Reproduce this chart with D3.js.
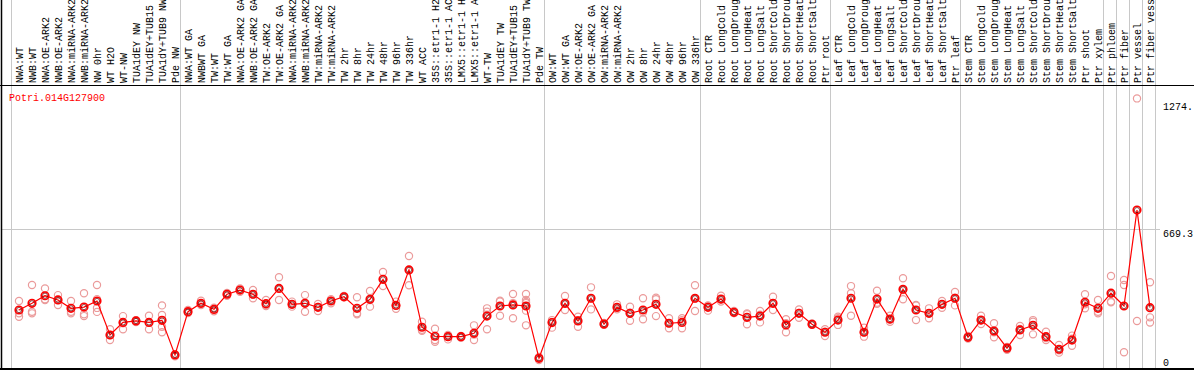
<!DOCTYPE html>
<html><head><meta charset="utf-8">
<script src="https://cdn.jsdelivr.net/npm/d3@7"></script>
<style>html,body{margin:0;padding:0;background:#fff;overflow:hidden}</style>
</head><body>
<svg id="chart" width="1194" height="370"></svg>
<script>
const geneName = "Potri.014G127900";
const categories = [
"NWA:WT","NWB:WT","NWA:OE-ARK2","NWB:OE-ARK2","NWA:miRNA-ARK2","NWB:miRNA-ARK2","NW 0hr","WT H2O","WT-NW","TUA1dEY NW","TUA1dEY+TUB15 NW","TUA1dY+TUB9 NW","Pde NW",
"NWA:WT GA","NWBWT GA","TW:WT","TW:WT GA","NWA:OE-ARK2 GA","NWB:OE-ARK2 GA","TW:OE-ARK2","TW:OE-ARK2 GA","NWA:miRNA-ARK2 GA","NWB:miRNA-ARK2 GA","TW:miRNA-ARK2","TW:miRNA-ARK2 GA","TW 2hr","TW 8hr","TW 24hr","TW 48hr","TW 96hr","TW 336hr","WT ACC","35S::etr1-1 H2O","35S::etr1-1 ACC","LMX5::etr1-1 H2O","LMX5::etr1-1 ACC","WT-TW","TUA1dEY TW","TUA1dEY+TUB15 TW","TUA1dY+TUB9 TW","Pde TW",
"OW:WT","OW:WT GA","OW:OE-ARK2","OW:OE-ARK2 GA","OW:miRNA-ARK2","OW:miRNA-ARK2 GA","OW 2hr","OW 8hr","OW 24hr","OW 48hr","OW 96hr","OW 336hr",
"Root CTR","Root LongCold","Root LongDrought","Root LongHeat","Root LongSalt","Root ShortCold","Root ShortDrought","Root ShortHeat","Root ShortSalt","Ptr root",
"Leaf CTR","Leaf LongCold","Leaf LongDrought","Leaf LongHeat","Leaf LongSalt","Leaf ShortCold","Leaf ShortDrought","Leaf ShortHeat","Leaf ShortSalt","Ptr leaf",
"Stem CTR","Stem LongCold","Stem LongDrought","Stem LongHeat","Stem LongSalt","Stem ShortCold","Stem ShortDrought","Stem ShortHeat","Stem ShortSalt","Ptr shoot","Ptr xylem",
"Ptr phloem","Ptr fiber","Ptr vessel","Ptr fiber vessel"];
const groupStarts = [0,13,41,53,63,73,84,85,86,87];
const means = [
281,313,349,329,289,295,324,162,222,229,222,232,67,
273,313,284,356,376,356,311,384,308,313,294,324,344,289,332,427,303,472,199,156,154,154,170,252,300,305,300,51,
221,313,229,337,214,294,265,281,308,218,222,337,
294,333,270,246,252,313,210,265,213,175,
233,337,175,333,238,380,281,265,308,337,
151,233,181,99,186,208,154,94,138,318,289,
361,300,757,292];
const replicates = [
[324,265,249],[400,273,265],[384,332,329],[352,329,305],[324,273,265],[361,261,252],[400,333,291,272],[189,162,138],[252,218,189],[233,229,224],[254,222,189],[303,257,233,201,175],[71,67,60],
[281,272,267],[325,305,310],[292,286,275],[362,356,349],[384,368],[376,354,337],[329,305,300],[437,384,329],[321,297,307],[352,273,313],[310,276,295],[333,313,325],[348,342],[342,261,265],[372,329,297],[462,427,395],[321,303,287],[538,472,399],[225,182,187],[192,138,130],[162,141,157],[157,149,155],[208,138,164],[289,273,189,259],[325,254,321],[357,242,305,314],[357,329,314,278,208,319],[57,51,43],
[233,197,224],[348,281,310],[249,201,233],[389,284,337],[219,212,210],[308,289,284],[297,230,268],[337,237,270],[340,332,252],[242,194,218],[242,194,232],[399,276,335],
[303,278,300],[349,321,331],[276,267,267],[261,213,265],[276,222,259],[344,281,313],[237,175,218],[284,244,267],[217,210,212],[189,157,178],
[249,210,242],[395,361,254],[197,154,175],[373,316,311],[254,225,236],[432,332,376],[305,233,302],[289,242,265],[324,292,308],[367,303,340],
[157,151,145],[254,214,232],[218,151,175],[105,99,92],[205,162,191],[233,165,225],[178,138,148],[114,78,89],[159,111,144],[356,289,308],[329,265,273],
[443,321,318],[424,400,80],[1289,229],[413,246,221]];
const yTicks = [0, 669.3, 1274];
const yTickLabels = ["0", "669.3", "1274."];

const svg = d3.select("#chart");
const W = 1194, H = 370;
const font = "'Liberation Mono', 'DejaVu Sans Mono', monospace";
const grid = "#c8c8c8";

const x = d3.scaleBand().domain(d3.range(categories.length)).range([12.5, 12.5 + 13*categories.length]);
const cx = i => x(i) + x.bandwidth()/2;
const y = d3.scaleLinear().domain([0, 1338.6]).range([369, 88]);

// horizontal midline grid
svg.append("line").attr("x1", 2).attr("x2", 1160).attr("y1", Math.round(y(669.3))+0.5).attr("y2", Math.round(y(669.3))+0.5)
  .attr("stroke", grid).attr("stroke-width", 1);

// group separators
const seps = groupStarts.map(s => cx(s) - 8).concat([cx(categories.length-1) + 5]);
svg.selectAll("line.sep").data(seps).enter().append("line").attr("class","sep")
  .attr("x1", d => Math.round(d)+0.5).attr("x2", d => Math.round(d)+0.5).attr("y1", 0).attr("y2", 369)
  .attr("stroke", grid).attr("stroke-width", 1);

// frame
svg.append("line").attr("x1",0).attr("x2",W).attr("y1",85.5).attr("y2",85.5).attr("stroke","#000").attr("stroke-width",1);
svg.append("line").attr("x1",0).attr("x2",W).attr("y1",369).attr("y2",369).attr("stroke","#000").attr("stroke-width",2);
svg.append("line").attr("x1",1.5).attr("x2",1.5).attr("y1",0).attr("y2",370).attr("stroke","#000").attr("stroke-width",1.5);

// category labels (rotated)
svg.selectAll("text.cat").data(categories).enter().append("text").attr("class","cat")
  .attr("transform", (d,i) => `translate(${cx(i)},83) rotate(-90)`)
  .attr("dy","0.35em").attr("font-family",font).attr("font-size","10px").attr("fill","#000")
  .text(d => d);

// title
svg.append("text").attr("x", 9).attr("y", 101).attr("font-family", font).attr("font-size","10px")
  .attr("fill","#f00").text(geneName);

// right axis
const axis = d3.axisRight(y).tickValues(yTicks).tickSize(0).tickPadding(0)
  .tickFormat((d,i) => yTickLabels[i]);
const ag = svg.append("g").attr("transform","translate(1163,0)").call(axis);
ag.select(".domain").remove();
ag.selectAll("text").attr("font-family", font).attr("font-size","10px").attr("fill","#000")
  .attr("dy", d => d === 0 ? "-0.4em" : "0.75em");

// replicate points
const repData = [];
replicates.forEach((arr, i) => arr.forEach(v => repData.push({i, v})));
svg.selectAll("circle.rep").data(repData).enter().append("circle").attr("class","rep")
  .attr("cx", d => cx(d.i)).attr("cy", d => y(d.v)).attr("r", 3.6)
  .attr("fill","none").attr("stroke","#eb9b9b").attr("stroke-width",1.2);

// mean line
const line = d3.line().x((d,i) => cx(i)).y(d => y(d));
svg.append("path").datum(means).attr("d", line).attr("fill","none").attr("stroke","#f00").attr("stroke-width",1.2);

// mean points
svg.selectAll("circle.mean").data(means).enter().append("circle").attr("class","mean")
  .attr("cx", (d,i) => cx(i)).attr("cy", d => y(d)).attr("r", 3.8)
  .attr("fill","none").attr("stroke","#f00").attr("stroke-width",1.6);
svg.selectAll("circle.meanin").data(means).enter().append("circle").attr("class","meanin")
  .attr("cx", (d,i) => cx(i)).attr("cy", d => y(d)).attr("r", 2.6)
  .attr("fill","none").attr("stroke","#600").attr("stroke-width",0.7);
</script>
</body></html>
